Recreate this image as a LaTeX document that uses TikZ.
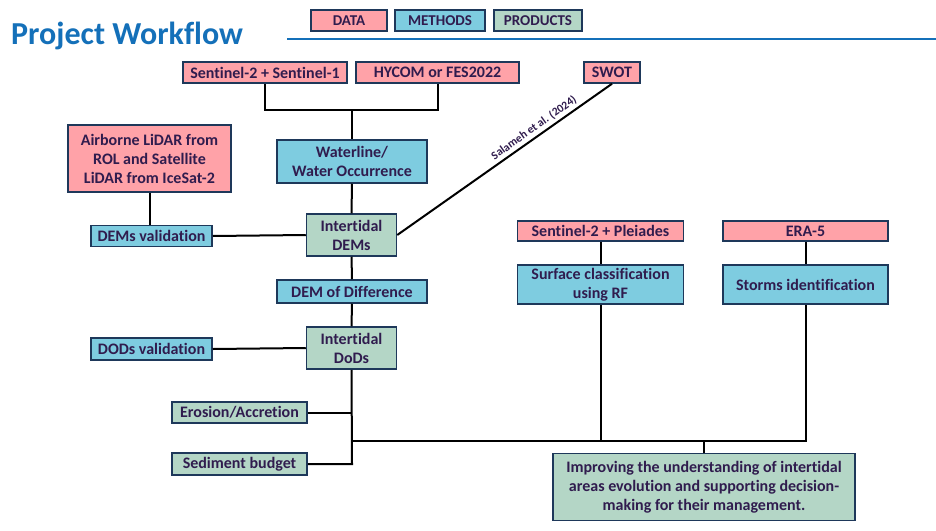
\documentclass[tikz,border=0pt]{standalone}
\usepackage{fontspec}
\setmainfont[Ligatures=NoCommon]{Carlito}
\definecolor{txt}{RGB}{48,28,78}
\definecolor{bord}{RGB}{30,56,90}
\definecolor{pinkf}{RGB}{255,162,168}
\definecolor{bluef}{RGB}{126,204,224}
\definecolor{greenf}{RGB}{180,214,198}
\definecolor{titleblue}{RGB}{20,112,185}
\tikzset{
  box/.style={draw=bord, line width=1.5pt, inner sep=0pt, align=center, text=txt,
    font=\fontsize{16}{19}\selectfont\bfseries},
  data/.style={box, fill=pinkf},
  meth/.style={box, fill=bluef},
  prod/.style={box, fill=greenf},
  legend/.style={font=\fontsize{15}{17}\selectfont\bfseries},
  conn/.style={line width=2pt, black},
}
\begin{document}
\begin{tikzpicture}[x=1pt,y=-1pt]
\useasboundingbox (0,0) rectangle (936,530);
\fill[white] (0,0) rectangle (936,530);
% title
\node[anchor=west, text=titleblue, font=\fontsize{32}{36}\selectfont\bfseries, inner sep=0pt] (title) at (11,36) {Project Workflow};
\coordinate (hl1) at (287,38.5);
\coordinate (hl2) at (936,38.5);
\draw[titleblue, line width=2pt] (hl1) -- (hl2);
% legend
\node[data, legend, minimum width=76, minimum height=21] (lgd) at (349,20.5) {DATA};
\node[meth, legend, minimum width=90, minimum height=21] (lgm) at (440,20.5) {METHODS};
\node[prod, legend, minimum width=88, minimum height=21] (lgp) at (538,20.5) {PRODUCTS};
% data top
\node[data, minimum width=164, minimum height=21] (s21) at (265,72.5) {Sentinel-2 + Sentinel-1};
\node[data, minimum width=163, minimum height=21] (hyc) at (437.5,72.5) {HYCOM or FES2022};
\node[data, minimum width=56, minimum height=21] (swot) at (612,72.5) {SWOT};
% waterline
\node[meth, minimum width=150, minimum height=43] (wat) at (352,161.5) {Waterline/\\Water Occurrence};
\coordinate (j1) at (352,110);
\draw[conn] (s21.south) |- (j1) -| (hyc.south);
\draw[conn] (j1) -- (wat.north);
% lidar
\node[data, minimum width=163, minimum height=67] (lidar) at (149.5,158.5) {Airborne LiDAR from\\ROL and Satellite\\LiDAR from IceSat-2};
\node[meth, minimum width=121, minimum height=21] (demv) at (151.5,236) {DEMs validation};
\draw[conn] (lidar.south) -- (lidar.south |- demv.north);
% intertidal DEMs
\node[prod, minimum width=90, minimum height=42] (idem) at (351.5,235) {Intertidal\\DEMs};
\draw[conn] (demv.east) -- (idem.west);
\draw[conn] (wat.south) -- (idem.north);
\draw[conn] (swot.south) -- (idem.east);
\node[text=txt, font=\fontsize{11.5}{12}\selectfont\bfseries, rotate=35.4, inner sep=0pt] (sal) at (534,128) {Salameh et al. (2024)};
% DoD
\node[meth, minimum width=150, minimum height=23] (dod) at (352,291.5) {DEM of Difference};
\node[prod, minimum width=90, minimum height=42] (idod) at (351.5,348) {Intertidal\\DoDs};
\node[meth, minimum width=121, minimum height=22] (dodv) at (151.5,349) {DODs validation};
\draw[conn] (idem.south) -- (dod.north);
\draw[conn] (dod.south) -- (idod.north);
\draw[conn] (dodv.east) -- (idod.west);
% products left
\node[prod, minimum width=135, minimum height=21] (ero) at (239.5,412.5) {Erosion/Accretion};
\node[prod, minimum width=135, minimum height=22] (sed) at (239.5,464) {Sediment budget};
\coordinate (tr1) at (352,412.5);
\coordinate (tr2) at (352,441);
\coordinate (tr3) at (352,464);
\draw[conn] (idod.south) -- (tr3) -- (sed.east);
\draw[conn] (ero.east) -- (tr1);
% right branch
\node[data, minimum width=166, minimum height=20] (s2p) at (600.5,231) {Sentinel-2 + Pleiades};
\node[data, minimum width=165, minimum height=20] (era) at (805.5,231) {ERA-5};
\node[meth, minimum width=166, minimum height=39] (surf) at (600.5,284.5) {Surface classification\\using RF};
\node[meth, minimum width=165, minimum height=39] (storm) at (805.5,284.5) {Storms identification};
\draw[conn] (s2p.south) -- (surf.north);
\draw[conn] (era.south) -- (storm.north);
% final product
\node[prod, minimum width=302, minimum height=67] (imp) at (704,487) {Improving the understanding of intertidal\\areas evolution and supporting decision-\\making for their management.};
\coordinate (h1) at (surf.south |- tr2);
\coordinate (h2) at (storm.south |- tr2);
\coordinate (h3) at (imp.north |- tr2);
\draw[conn] (tr2) -- (h2) -- (storm.south);
\draw[conn] (surf.south) -- (h1);
\draw[conn] (h3) -- (imp.north);
\end{tikzpicture}
\end{document}
